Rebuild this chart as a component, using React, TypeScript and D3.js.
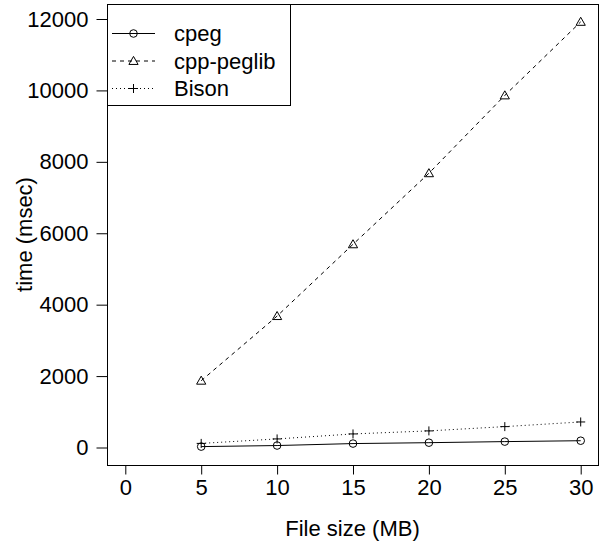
import React, { useEffect, useRef } from "react";
import * as d3 from "d3";

// values
const fileSizes = [5, 10, 15, 20, 25, 30];
const cpeg = [25, 55, 110, 135, 165, 190];
const cppPeglib = [1870, 3680, 5690, 7680, 9860, 11920];
const bison = [115, 240, 380, 465, 585, 715];
const xTicks = [0, 5, 10, 15, 20, 25, 30];
const yTicks = [0, 2000, 4000, 6000, 8000, 10000, 12000];
const seriesNames = ["cpeg", "cpp-peglib", "Bison"];

const FONT = "'Liberation Sans', Arial, Helvetica, sans-serif";

export default function App() {
  const ref = useRef<SVGSVGElement>(null);

  useEffect(() => {
    const width = 603;
    const height = 557;
    const svg = d3.select(ref.current).attr("width", width).attr("height", height);
    svg.selectAll("*").remove();

    const box = { left: 107, right: 598, top: 4, bottom: 465 };

    const x = d3.scaleLinear().domain([0, 30]).range([125.3, 580.7]);
    const y = d3.scaleLinear().domain([0, 12000]).range([447.5, 19]);

    // plot frame
    svg.append("rect")
      .attr("x", box.left + 0.5)
      .attr("y", box.top + 0.5)
      .attr("width", box.right - box.left)
      .attr("height", box.bottom - box.top)
      .attr("fill", "none")
      .attr("stroke", "#000");

    const xAxis = svg.append("g")
      .attr("transform", `translate(0,${box.bottom + 0.5})`)
      .call(d3.axisBottom(x).tickValues(xTicks).tickSize(9).tickPadding(4.4).tickFormat(d3.format("d")));
    const yAxis = svg.append("g")
      .attr("transform", `translate(${box.left + 0.5},0)`)
      .call(d3.axisLeft(y).tickValues(yTicks).tickSize(11).tickPadding(8).tickFormat(d3.format("d")));

    [xAxis, yAxis].forEach(g => {
      g.select(".domain").remove();
      g.attr("font-family", FONT).attr("font-size", 22);
      g.selectAll("line").attr("stroke", "#000");
      g.selectAll("text").attr("fill", "#000");
    });

    svg.append("text")
      .attr("x", (box.left + box.right) / 2)
      .attr("y", 536)
      .attr("text-anchor", "middle")
      .attr("font-family", FONT)
      .attr("font-size", 22)
      .text("File size (MB)");

    svg.append("text")
      .attr("transform", `translate(32,${(box.top + box.bottom) / 2}) rotate(-90)`)
      .attr("text-anchor", "middle")
      .attr("font-family", FONT)
      .attr("font-size", 22)
      .text("time (msec)");

    const line = d3.line<number>()
      .x((d, i) => x(fileSizes[i]))
      .y(d => y(d));

    const series = [
      { values: cpeg, dash: null, shape: "circle" },
      { values: cppPeglib, dash: "4,4", shape: "triangle" },
      { values: bison, dash: "1,3", shape: "plus" },
    ];

    const drawMarker = (g: any, shape: string, cx: number, cy: number) => {
      if (shape === "circle") {
        g.append("circle").attr("cx", cx).attr("cy", cy).attr("r", 3.8)
          .attr("fill", "none").attr("stroke", "#000").attr("stroke-width", 1);
      } else if (shape === "triangle") {
        const s = 4.6;
        const path = `M${cx},${cy - s}L${cx + s},${cy + s * 0.75}L${cx - s},${cy + s * 0.75}Z`;
        g.append("path").attr("d", path)
          .attr("fill", "none").attr("stroke", "#000").attr("stroke-width", 1);
      } else {
        const s = 4.5;
        g.append("path").attr("d", `M${cx - s},${cy}H${cx + s}M${cx},${cy - s}V${cy + s}`)
          .attr("fill", "none").attr("stroke", "#000").attr("stroke-width", 1);
      }
    };

    series.forEach(s => {
      svg.append("path")
        .datum(s.values)
        .attr("d", line)
        .attr("fill", "none")
        .attr("stroke", "#000")
        .attr("stroke-width", 1)
        .attr("stroke-dasharray", s.dash);
      const g = svg.append("g");
      s.values.forEach((v, i) => drawMarker(g, s.shape, x(fileSizes[i]), y(v)));
    });

    // legend
    const legend = svg.append("g");
    legend.append("rect")
      .attr("x", box.left + 0.5)
      .attr("y", box.top + 0.5)
      .attr("width", 183)
      .attr("height", 101)
      .attr("fill", "#fff")
      .attr("stroke", "#000");

    series.forEach((s, i) => {
      const ly = 33.5 + i * 27.5;
      legend.append("line")
        .attr("x1", 112).attr("x2", 155)
        .attr("y1", ly).attr("y2", ly)
        .attr("stroke", "#000")
        .attr("stroke-dasharray", s.dash);
      drawMarker(legend, s.shape, 133.5, ly);
      legend.append("text")
        .attr("x", 174)
        .attr("y", ly)
        .attr("dy", "0.35em")
        .attr("font-family", FONT)
        .attr("font-size", 22)
        .text(seriesNames[i]);
    });
  }, []);

  return <svg ref={ref} style={{ position: "absolute", left: 0, top: 0 }} />;
}
